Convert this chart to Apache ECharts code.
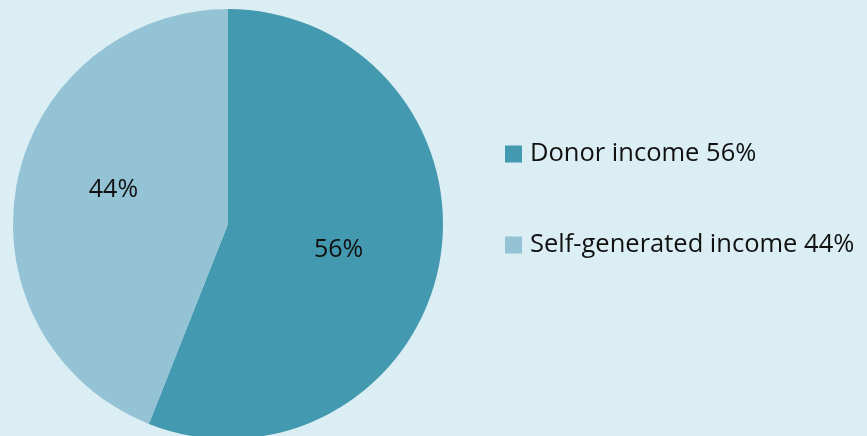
<!DOCTYPE html>
<html>
<head>
<meta charset="utf-8">
<script src="https://cdn.jsdelivr.net/npm/echarts@6/dist/echarts.min.js"></script>
<style>
html,body{margin:0;padding:0;background:#dbeef4;}
#c{width:867px;height:436px;}
</style>
</head>
<body>
<div id="c"></div>
<script>
const categories = ['Donor income', 'Self-generated income'];
const values = [56, 44];
const colors = ['#4399b0', '#93c3d4'];
const labelOffsets = [[2, 5], [-6, -13]];

const chart = echarts.init(document.getElementById('c'), null, {renderer: 'canvas'});
chart.setOption({
  backgroundColor: '#dbeef4',
  animation: false,
  color: colors,
  legend: {
    orient: 'vertical',
    left: 500,
    top: 136,
    itemWidth: 17,
    itemHeight: 17,
    itemGap: 65,
    icon: 'rect',
    data: categories,
    formatter: function (name) {
      const i = categories.indexOf(name);
      return name + ' ' + values[i] + '%';
    },
    textStyle: {
      fontFamily: 'Open Sans',
      fontSize: 25.5,
      lineHeight: 25,
      color: '#111',
      padding: [0, 0, 0, 3]
    },
    itemStyle: {borderWidth: 0}
  },
  series: [{
    type: 'pie',
    center: [228, 224],
    radius: [0, 215],
    startAngle: 90,
    clockwise: true,
    silent: true,
    itemStyle: {borderWidth: 0},
    label: {
      show: true,
      position: 'inside',
      formatter: '{c}%',
      fontFamily: 'Open Sans',
      fontSize: 25,
      color: '#111'
    },
    labelLine: {show: false},
    data: categories.map((n, i) => ({name: n, value: values[i], label: {offset: labelOffsets[i]}}))
  }]
});
</script>
</body>
</html>
